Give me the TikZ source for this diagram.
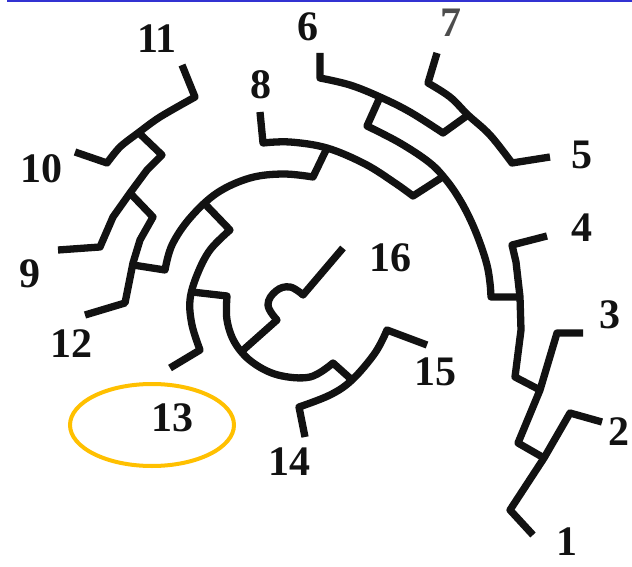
\documentclass[tikz,border=0pt]{standalone}
\usepackage{fontspec}
\setmainfont{Liberation Serif}
\definecolor{ink}{rgb}{0.07,0.07,0.07}
\definecolor{topblue}{RGB}{50,50,210}
\definecolor{hilite}{RGB}{255,192,0}
\begin{document}
\begin{tikzpicture}[x=1pt,y=-1pt,
  br/.style={line width=7.3pt, line join=round, draw=ink},
  lab/.style={font=\fontsize{42}{42}\selectfont\bfseries, inner sep=0pt, text=ink}]
\useasboundingbox (0,0) rectangle (632,567);
\fill[white] (0,0) rectangle (632,567);
\draw[line width=2pt, draw=topblue] (7,1) -- (632,1);

% ---- right side: 1,2,3,4
\draw[br] (533,535) -- (510,510) -- (544,458) -- (570,413) -- (602,422);
\draw[br] (544,458) -- (518,443) -- (540,390) -- (557,333) -- (583,333);
\draw[br] (540,390) -- (515,377) -- (521,330) -- (520,297) -- (516,262) -- (512,245) -- (547,236);
% middle arc
\draw[br] (520,297) -- (491,297) -- plot[smooth,tension=0.6] coordinates {(491,297) (490,283) (487,265) (480,243) (471,221) (460,200) (447,181) (430,163) (400,143) (367,126)} -- (380,97);
% 6 arc
\draw[br] (320,53) -- (320,78) -- plot[smooth,tension=0.6] coordinates {(320,78) (350,85) (380,97) (410,112) (443,133)} -- (468,115);
% 7 arc and 5
\draw[br] (437,53) -- (428,83) -- plot[smooth,tension=0.6] coordinates {(428,83) (450,97) (468,115) (490,135) (512,163)} -- (550,157);
% 8 arc
\draw[br] (260,112) -- (263,143) -- plot[smooth,tension=0.6] coordinates {(263,143) (290,142) (327,148) (365,164) (395,183) (413,196)} -- (441,178);
% big arc D
\draw[br] (327,148) -- (313,177) -- plot[smooth,tension=0.6] coordinates {(313,177) (283,174) (250,178) (217,193) (190,218) (172,245) (165,270)} -- (133,265);
% left side 9,10,11,12
\draw[br] (182,65) -- (195,97) -- plot[smooth,tension=0.5] coordinates {(195,97) (160,117) (138,133) (120,147) (107,163)} -- (75,152);
\draw[br] (139,133) -- (162,155) -- (147,170) -- (130,193) -- (113,217) -- (100,247) -- (58,250);
\draw[br] (130,193) -- (153,217) -- (140,240) -- (133,263) -- (125,303) -- (85,315);
% arc E with 13
\draw[br] (205,204) -- (230,230) -- plot[smooth,tension=0.6] coordinates {(230,230) (210,250) (197,275) (190,300) (192,325) (200,350)} -- (170,368);
% arc F
\draw[br] (192,292) -- (227,296) -- plot[smooth,tension=0.6] coordinates {(227,296) (227,320) (235,343) (252,362) (278,375) (310,377) (333,363)} -- (352,380);
% arc G with 14, 15
\draw[br] (305,437) -- (299,407) -- plot[smooth,tension=0.6] coordinates {(299,407) (330,395) (352,380) (375,353) (387,330)} -- (427,345);
% 16
\draw[br] (241,352) -- (277,320) -- plot[smooth,tension=0.7] coordinates {(277,320) (268,305) (276,291) (290,287) (303,295)} -- (343,248);

% highlight
\draw[line width=4pt, draw=hilite] (152,425) ellipse [x radius=82, y radius=41];

% labels
\node[lab] (n1) at (567,542) {1};
\node[lab] (n2) at (619,432) {2};
\node[lab] (n3) at (610,315) {3};
\node[lab] (n4) at (582,228) {4};
\node[lab] (n5) at (582,155) {5};
\node[lab] (n6) at (308,27) {6};
\node[lab, text=ink!75] (n7) at (451,23) {7};
\node[lab] (n8) at (261,85) {8};
\node[lab] (n9) at (30,274) {9};
\node[lab] (n10) at (41,169) {10};
\node[lab] (n11) at (157,39) {11};
\node[lab] (n12) at (71,344) {12};
\node[lab] (n13) at (172,418) {13};
\node[lab] (n14) at (289,462) {14};
\node[lab] (n15) at (435,372) {15};
\node[lab] (n16) at (390,258) {16};
\end{tikzpicture}
\end{document}
